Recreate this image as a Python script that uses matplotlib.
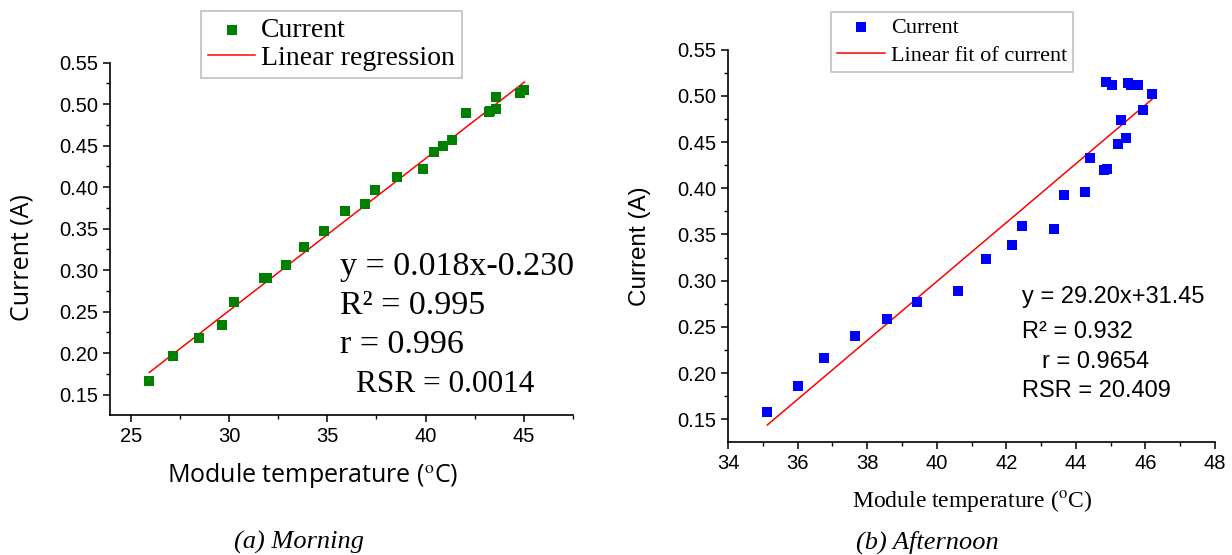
import numpy as np
import matplotlib
matplotlib.use("Agg")
import matplotlib.pyplot as plt
from matplotlib.ticker import MultipleLocator

plt.rcParams['mathtext.fontset'] = 'stix'

# (a) Morning
temp_morning = [25.95, 27.14, 28.46, 29.64, 30.24, 31.80, 31.95, 32.90, 33.82, 34.86,
                35.91, 36.94, 37.43, 38.53, 39.87, 40.44, 40.90, 41.35, 42.07, 43.23,
                43.30, 43.60, 43.60, 44.78, 45.03]
curr_morning = [0.167, 0.196, 0.2185, 0.2334, 0.2615, 0.291, 0.290, 0.3066, 0.3279, 0.3474,
                0.3717, 0.3798, 0.396, 0.4126, 0.4223, 0.4419, 0.450, 0.4572, 0.489, 0.490,
                0.491, 0.4943, 0.5079, 0.5138, 0.5168]
fit_morning = (0.01833, -0.2989)   # slope, intercept

# (b) Afternoon
temp_afternoon = [35.13, 36.01, 36.76, 37.66, 38.57, 39.44, 40.60, 41.43, 42.15, 42.44,
                  43.37, 43.66, 44.25, 44.42, 44.80, 44.90, 44.86, 45.05, 45.20, 45.29,
                  45.43, 45.49, 45.58, 45.80, 45.94, 46.19]
curr_afternoon = [0.1584, 0.186, 0.2159, 0.2404, 0.2586, 0.2766, 0.2893, 0.3236, 0.3389, 0.3596,
                  0.3557, 0.3925, 0.3956, 0.4326, 0.4195, 0.421, 0.5149, 0.5119, 0.4479, 0.4743,
                  0.4544, 0.5134, 0.5119, 0.5119, 0.4843, 0.5018]
fit_afternoon = (0.03187, -0.9758)

W, H = 1232, 555
fig = plt.figure(figsize=(W / 100, H / 100), dpi=100)


def px_ax(x0, y0, x1, y1):
    return fig.add_axes([x0 / W, 1 - y1 / H, (x1 - x0) / W, (y1 - y0) / H])


def style_axis(ax):
    for s in ["top", "right"]:
        ax.spines[s].set_visible(False)
    for s in ["left", "bottom"]:
        ax.spines[s].set_linewidth(1.2)
    ax.tick_params(which="major", direction="out", length=5, width=1.1, labelsize=14.5)
    ax.tick_params(which="minor", direction="out", length=3, width=1.0)
    ax.yaxis.set_major_locator(MultipleLocator(0.05))
    ax.yaxis.set_minor_locator(MultipleLocator(0.025))
    ax.yaxis.set_major_formatter(plt.FuncFormatter(lambda v, p: "%.2f" % v))
    for lab in ax.get_xticklabels() + ax.get_yticklabels():
        lab.set_family("Liberation Sans")


# ---- left panel
ax1 = px_ax(110, 62.5, 573, 415)
ax1.scatter(temp_morning, curr_morning, marker="s", s=48, color="#008000",
            linewidths=0, label="Current", zorder=3)
xs = np.array([min(temp_morning), max(temp_morning)])
ax1.plot(xs, fit_morning[0] * xs + fit_morning[1], color="#ff0000", lw=1.1,
         label="Linear regression", zorder=2)
ax1.set_xlim(23.95, 47.5)
ax1.set_ylim(0.1255, 0.55)
ax1.xaxis.set_major_locator(MultipleLocator(5))
ax1.xaxis.set_minor_locator(MultipleLocator(2.5))
style_axis(ax1)
fig.text(313 / W, 1 - 476 / H, r"Module temperature ($^{\mathrm{o}}$C)", family="Open Sans",
         fontsize=18, ha="center", va="center")
fig.text(22 / W, 1 - 258 / H, "Current (A)", family="Open Sans", fontsize=18,
         rotation=90, ha="center", va="center")
leg1 = ax1.legend(loc="upper left", bbox_to_anchor=(201 / W, 1 - 10.5 / H),
                  bbox_transform=fig.transFigure, prop={"family": "Liberation Serif", "size": 20},
                  frameon=True, fancybox=False, borderaxespad=0, handlelength=1.7,
                  handletextpad=0.2, borderpad=0.25, labelspacing=0.1, markerscale=1.0)
leg1.get_frame().set_edgecolor("#b0b0b0")
leg1.get_frame().set_linewidth(1.2)

ann_a = ["y = 0.018x-0.230", "R² = 0.995", "r = 0.996"]
for i, t in enumerate(ann_a):
    fig.text(340 / W, 1 - (267 + 39 * i) / H, t, family="Liberation Serif", fontsize=24.5,
             ha="left", va="center")
fig.text(356 / W, 1 - 384 / H, "RSR = 0.0014", family="Liberation Serif", fontsize=22.5,
         ha="left", va="center")
fig.text(299 / W, 1 - 542 / H, "(a) Morning", family="Liberation Serif", style="italic",
         fontsize=19, ha="center", va="center")

# ---- right panel
ax2 = px_ax(728, 49.6, 1215, 442)
ax2.scatter(temp_afternoon, curr_afternoon, marker="s", s=55, color="#0000ff",
            linewidths=0, label="Current", zorder=3)
xs = np.array([min(temp_afternoon), max(temp_afternoon)])
ax2.plot(xs, fit_afternoon[0] * xs + fit_afternoon[1], color="#ff0000", lw=1.1,
         label="Linear fit of current", zorder=2)
ax2.set_xlim(34, 48)
ax2.set_ylim(0.1254, 0.55)
ax2.xaxis.set_major_locator(MultipleLocator(2))
ax2.xaxis.set_minor_locator(MultipleLocator(1))
style_axis(ax2)
fig.text(972 / W, 1 - 501 / H, r"Module temperature ($^{\mathrm{o}}$C)", family="Liberation Serif",
         fontsize=17, ha="center", va="center")
fig.text(640 / W, 1 - 246 / H, "Current (A)", family="Liberation Sans", fontsize=17.5,
         rotation=90, ha="center", va="center")
leg2 = ax2.legend(loc="upper left", bbox_to_anchor=(831 / W, 1 - 11.5 / H),
                  bbox_transform=fig.transFigure, prop={"family": "Liberation Serif", "size": 16},
                  frameon=True, fancybox=False, borderaxespad=0, handlelength=2.2,
                  handletextpad=0.25, borderpad=0.25, labelspacing=0.35)
leg2.get_frame().set_edgecolor("#b0b0b0")
leg2.get_frame().set_linewidth(1.2)

ann_b = [("y = 29.20x+31.45", 1022.5, 296.5), ("R² = 0.932", 1022.5, 332.5),
         ("r = 0.9654", 1042, 362), ("RSR = 20.409", 1022.5, 391)]
for t, x, y in ann_b:
    fig.text(x / W, 1 - y / H, t, family="Liberation Sans", fontsize=17, ha="left", va="center")
fig.text(927 / W, 1 - 542 / H, "(b) Afternoon", family="Liberation Serif", style="italic",
         fontsize=19, ha="center", va="center")

fig.savefig("out.png", dpi=100)
